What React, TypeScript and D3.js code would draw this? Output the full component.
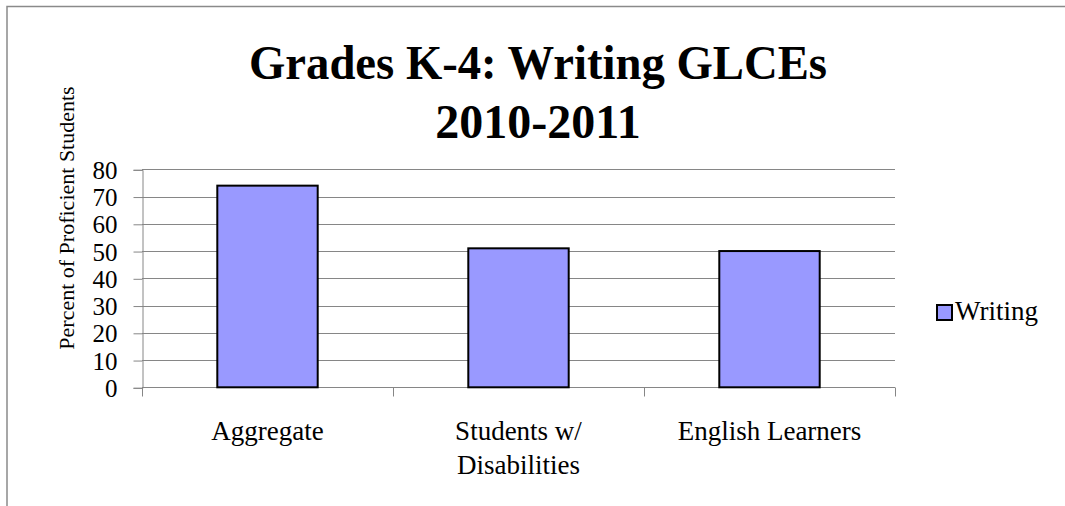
import React, { useEffect, useRef } from 'react';
import * as d3 from 'd3';

const categories = ['Aggregate', 'Students w/\nDisabilities', 'English Learners'];
const writingValues = [74, 51, 50];
const yTicks = [0, 10, 20, 30, 40, 50, 60, 70, 80];
const titleLines = ['Grades K-4: Writing GLCEs', '2010-2011'];
const seriesName = 'Writing';
const yAxisTitle = 'Percent of Proficient Students';

const WIDTH = 1065;
const HEIGHT = 506;
const FONT = '"Liberation Serif", "Times New Roman", serif';

export default function App() {
  const svgRef = useRef<SVGSVGElement>(null);

  useEffect(() => {
    if (!svgRef.current) return;
    const svg = d3.select(svgRef.current);
    svg.selectAll('*').remove();

    const plot = { left: 142, right: 895, top: 169.3, bottom: 387.3 };

    // outer chart frame (runs off the page at right and bottom)
    svg.append('rect')
      .attr('x', 7)
      .attr('y', 6.5)
      .attr('width', WIDTH + 20)
      .attr('height', HEIGHT + 20)
      .attr('fill', 'white')
      .attr('stroke', '#8a8a8a')
      .attr('stroke-width', 1.5);

    const x = d3.scaleBand<string>()
      .domain(categories)
      .range([plot.left, plot.right])
      .paddingInner(0.6)
      .paddingOuter(0.3);

    const y = d3.scaleLinear()
      .domain([0, 80])
      .range([plot.bottom, plot.top]);

    // gridlines
    svg.append('g')
      .selectAll('line')
      .data(yTicks.filter(t => t > 0))
      .join('line')
      .attr('x1', plot.left)
      .attr('x2', plot.right)
      .attr('y1', d => Math.round(y(d)) + 0.5)
      .attr('y2', d => Math.round(y(d)) + 0.5)
      .attr('stroke', '#868686')
      .attr('stroke-width', 1);

    // y axis
    const yAxis = svg.append('g')
      .attr('transform', `translate(${plot.left + 0.5},0.5)`)
      .call(d3.axisLeft(y).tickValues(yTicks).tickSize(9).tickPadding(16));
    yAxis.select('.domain').attr('stroke', '#868686');
    yAxis.selectAll('.tick line').attr('stroke', '#868686');
    yAxis.selectAll('.tick text')
      .attr('font-family', FONT)
      .attr('font-size', 25)
      .attr('fill', '#000')
      .attr('dy', '0.34em');

    // x axis
    const xAxis = svg.append('g')
      .attr('transform', `translate(0,${Math.round(plot.bottom) + 0.5})`);
    xAxis.append('line')
      .attr('x1', plot.left)
      .attr('x2', plot.right)
      .attr('stroke', '#868686');
    const xTickPos = d3.range(categories.length + 1).map(i => plot.left + i * x.step());
    xAxis.selectAll('line.tick')
      .data(xTickPos)
      .join('line')
      .attr('class', 'tick')
      .attr('x1', d => Math.round(d) + 0.5)
      .attr('x2', d => Math.round(d) + 0.5)
      .attr('y1', 0)
      .attr('y2', 9)
      .attr('stroke', '#868686');

    // category labels
    const labels = svg.append('g')
      .attr('font-family', FONT)
      .attr('font-size', 27)
      .attr('text-anchor', 'middle')
      .attr('fill', '#000');
    categories.forEach(c => {
      const t = labels.append('text')
        .attr('x', (x(c) || 0) + x.bandwidth() / 2)
        .attr('y', 440);
      c.split('\n').forEach((line, i) => {
        t.append('tspan')
          .attr('x', (x(c) || 0) + x.bandwidth() / 2)
          .attr('dy', i === 0 ? 0 : 34)
          .text(line);
      });
    });

    // bars
    svg.append('g')
      .selectAll('rect')
      .data(writingValues)
      .join('rect')
      .attr('x', (_, i) => x(categories[i]) || 0)
      .attr('y', d => y(d))
      .attr('width', x.bandwidth())
      .attr('height', d => y(0) - y(d))
      .attr('fill', '#9999ff')
      .attr('stroke', '#000')
      .attr('stroke-width', 2);

    // title
    const title = svg.append('g')
      .attr('font-family', FONT)
      .attr('font-weight', 'bold')
      .attr('font-size', 48)
      .attr('text-anchor', 'middle')
      .attr('fill', '#000');
    title.append('text')
      .attr('x', 538)
      .attr('y', 79)
      .attr('textLength', 578)
      .attr('lengthAdjust', 'spacingAndGlyphs')
      .text(titleLines[0]);
    title.append('text')
      .attr('x', 538)
      .attr('y', 138)
      .text(titleLines[1]);

    // y axis title
    svg.append('text')
      .attr('transform', 'translate(74,218) rotate(-90)')
      .attr('text-anchor', 'middle')
      .attr('font-family', FONT)
      .attr('font-size', 22)
      .attr('fill', '#000')
      .text(yAxisTitle);

    // legend
    const legend = svg.append('g').attr('transform', 'translate(937,305)');
    legend.append('rect')
      .attr('width', 15)
      .attr('height', 15)
      .attr('fill', '#9999ff')
      .attr('stroke', '#000')
      .attr('stroke-width', 2);
    legend.append('text')
      .attr('x', 18)
      .attr('y', 15)
      .attr('font-family', FONT)
      .attr('font-size', 27)
      .attr('fill', '#000')
      .text(seriesName);
  }, []);

  return (
    <svg
      ref={svgRef}
      width={WIDTH}
      height={HEIGHT}
      style={{ position: 'absolute', left: 0, top: 0, display: 'block' }}
    />
  );
}
